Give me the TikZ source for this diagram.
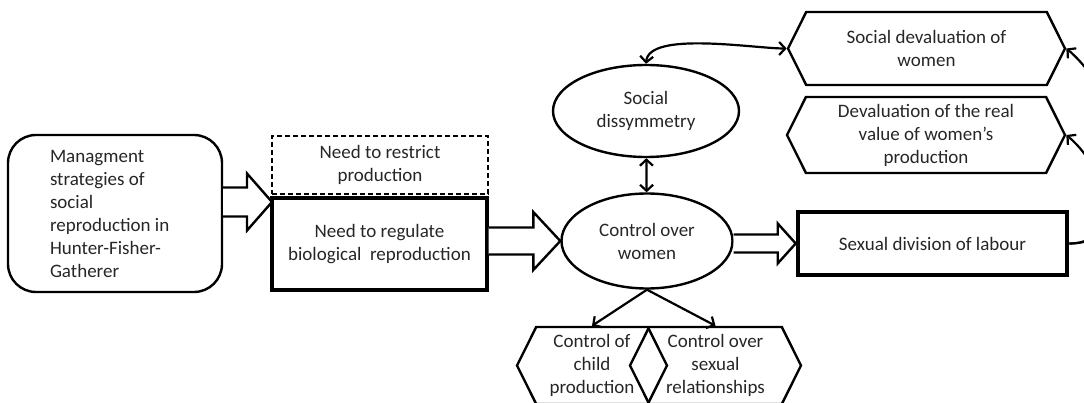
\documentclass[tikz,border=0pt]{standalone}
\usepackage{fontspec}
\setmainfont{Carlito}
\usetikzlibrary{shapes.geometric,shapes.symbols,arrows.meta,calc}

\newcommand{\hollowarrow}[5]{%
\draw[hollow] ($(#1 |- #2)+(0,#3)$) -- ($(#2)+(-#5,#3)$) -- ($(#2)+(-#5,#4)$) -- (#2) -- ($(#2)+(-#5,-#4)$) -- ($(#2)+(-#5,-#3)$) -- ($(#1 |- #2)+(0,-#3)$);}

\begin{document}
\begin{tikzpicture}[x=1pt,y=1pt,>={Straight Barb[length=6pt,width=13pt]},
  every node/.style={font=\fontsize{19}{23}\selectfont,text=black!85,align=center,inner sep=0pt},
  box/.style={draw,line width=2.4pt,rectangle},
  oval/.style={draw,line width=2.4pt,ellipse},
  hexa/.style={draw,line width=2.4pt,signal,signal to=west and east,signal pointer angle=127},
  hollow/.style={draw,fill=white,line width=2.4pt,miter limit=10},
  link/.style={line width=2.2pt}]
\useasboundingbox (0,0) rectangle (1084,-403);
\node[box,rounded corners=28pt,minimum width=214pt,minimum height=157pt,text width=130pt,align=flush left] (mgmt) at (115,-213.5) {Managment\\strategies of\\social\\reproduction in\\Hunter-Fisher-\\Gatherer};
\node[box,line width=2.8pt,dash pattern=on 5pt off 3pt,minimum width=216pt,minimum height=58pt] (restrict) at (380,-165) {Need to restrict\\production};
\node[box,line width=3.4pt,minimum width=215pt,minimum height=92pt] (regulate) at (379.5,-244) {Need to regulate\\biological\ \ reproduction};
\node[oval,minimum width=186pt,minimum height=92pt] (diss) at (646,-111) {Social\\dissymmetry};
\node[oval,minimum width=171pt,minimum height=95pt] (ctrl) at (647,-241) {Control over\\women};
\node[box,line width=4.6pt,minimum width=269pt,minimum height=63pt] (labour) at (932.5,-243.5) {Sexual division of labour};
\node[hexa,minimum width=277pt,minimum height=73pt] (devsoc) at (926.5,-48.5) {Social devaluation of\\women};
\node[hexa,minimum width=278pt,minimum height=76pt] (devreal) at (926,-135) {Devaluation of the real\\value of women’s\\production};
\node[hexa,minimum width=150pt,minimum height=77pt] (child) at (592,-365.5) {Control of\\child\\production};
\node[hexa,minimum width=171pt,minimum height=77pt] (sexrel) at (715.5,-365.5) {Control over\\sexual\\relationships};
\coordinate (tipA) at (272,-202);
\hollowarrow{mgmt.east}{tipA}{14.5}{28.5}{25}
\hollowarrow{regulate.east}{ctrl.west}{13.5}{29}{27}
\hollowarrow{ctrl.east}{labour.west}{9}{20}{18}
\draw[link,<->] (diss) -- (ctrl);
\draw[link,<->] (diss.north) to[out=85,in=180,looseness=0.6] (devsoc.west);
\draw[link,->] (ctrl.south) -- (child.north);
\draw[link,->] (ctrl.south) -- (sexrel.north);
\draw[link,->] (labour.east) to[out=0,in=-40,looseness=1.3] (devreal.east);
\draw[link,->] (labour.east) to[out=0,in=-40,looseness=1.1] (devsoc.east);
\end{tikzpicture}
\end{document}
